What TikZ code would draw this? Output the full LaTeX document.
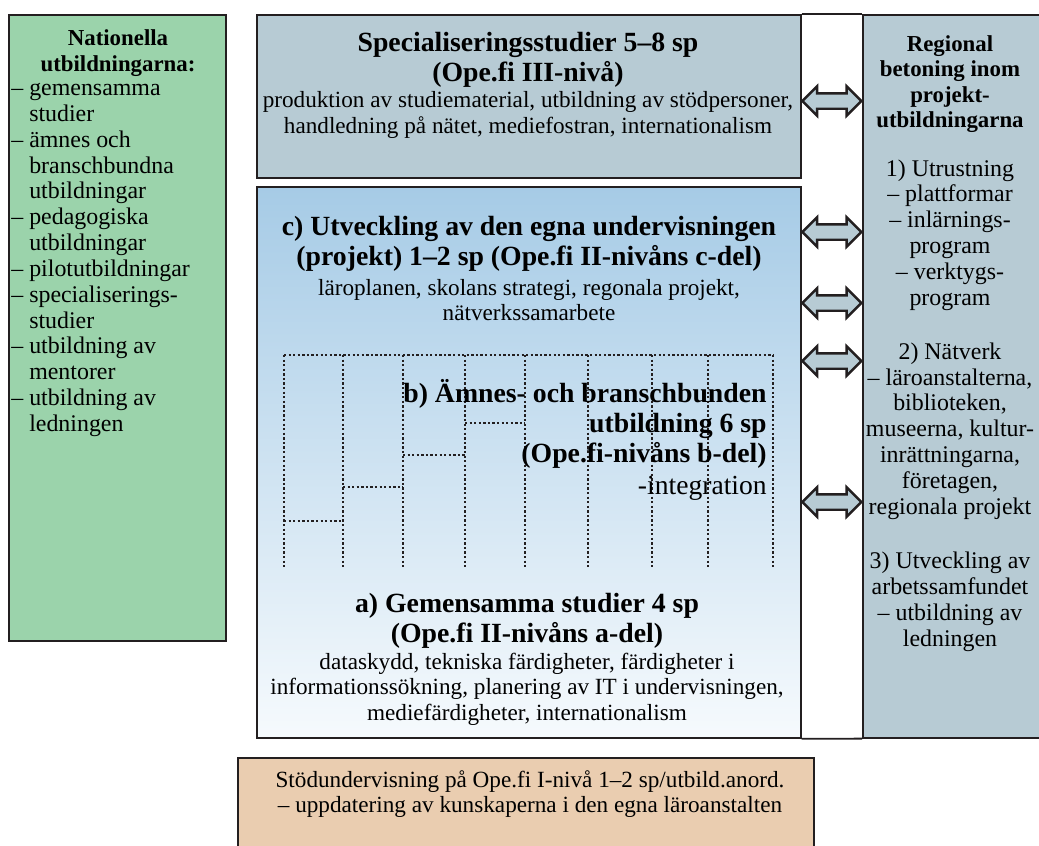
\documentclass[tikz,border=0pt]{standalone}
\usepackage{fontspec}
\setmainfont{Liberation Serif}
\usetikzlibrary{shapes,arrows,positioning,calc,arrows.meta}

\definecolor{natgreen}{RGB}{155,211,171}
\definecolor{regblue}{RGB}{183,203,212}
\definecolor{gradtop}{RGB}{166,203,230}
\definecolor{gradbot}{RGB}{246,250,253}
\definecolor{stodfill}{RGB}{234,205,176}
\definecolor{linecol}{RGB}{35,31,32}

\tikzset{
  panel/.style={draw=linecol, line width=1pt, rectangle, anchor=north west, inner sep=0pt},
  bodytxt/.style={font=\fontsize{13.2}{14.6}\selectfont, align=center, inner sep=0pt},
  sidetxt/.style={font=\fontsize{13.6}{14.7}\selectfont, align=center, inner sep=0pt},
  sidehead/.style={font=\fontsize{13}{14.5}\selectfont\bfseries, align=center, inner sep=0pt},
  headtxt/.style={font=\fontsize{15.8}{17.1}\selectfont\bfseries, align=center, inner sep=0pt},
  dblarrow/.style={double arrow, draw=linecol, line width=1.4pt, fill=regblue, inner sep=0pt,
    text height=0.13cm, text depth=0.13cm, text width=0pt, minimum height=1.18cm,
    double arrow head extend=0.14cm},
  stair/.style={linecol, line width=1.4pt, dash pattern=on 1.3pt off 1.3pt}
}

\begin{document}
\begin{tikzpicture}[x=0.02cm, y=-0.02cm]
\useasboundingbox (0,0) rectangle (1039,846);

% Panels
\node[panel, fill=natgreen, minimum width=4.34cm, minimum height=12.52cm] (nat) at (8,14) {};
\node[panel, fill=regblue, minimum width=10.88cm, minimum height=3.26cm] (spec) at (256,14) {};
\node[panel, top color=gradtop, bottom color=gradbot, minimum width=10.88cm, minimum height=11.02cm] (grad) at (256,186) {};
\node[panel, fill=regblue, minimum width=3.7cm, minimum height=14.46cm] (reg) at (862,14) {};
\node[panel, fill=stodfill, minimum width=11.52cm, minimum height=2.2cm] (stod) at (237,757) {};

% Frame between middle and right column
\draw[linecol, line width=1pt] (spec.north east) -- (reg.north west);
\draw[linecol, line width=1pt] (grad.south east) -- (reg.south west);

% Left column
\node[sidehead] (nathead) at (118,53) {Nationella\\utbildningarna:};
\node[sidetxt, align=left, anchor=west] (natlist) at (11,260) {%
  – gemensamma\\\hphantom{– }studier\\
  – ämnes och\\\hphantom{– }branschbundna\\\hphantom{– }utbildningar\\
  – pedagogiska\\\hphantom{– }utbildningar\\
  – pilotutbildningar\\
  – specialiserings-\\\hphantom{– }studier\\
  – utbildning av\\\hphantom{– }mentorer\\
  – utbildning av\\\hphantom{– }ledningen};

% Specialiseringsstudier
\node[headtxt] (spechead) at (528,60) {Specialiseringsstudier 5–8 sp\\(Ope.fi III-nivå)};
\node[bodytxt] (spectext) at (528,115) {produktion av studiematerial, utbildning av stödpersoner,\\handledning på nätet, mediefostran, internationalism};

% c) part
\node[headtxt] (chead) at (529,244) {c) Utveckling av den egna undervisningen\\(projekt) 1–2 sp (Ope.fi II-nivåns c-del)};
\node[bodytxt] (ctext) at (529,300) {läroplanen, skolans strategi, regonala projekt,\\nätverkssamarbete};

% b) part, dotted columns
\draw[stair] (284,355) -- (773,355);
\foreach \x in {284,343,403,465,525,588,652,708,773}
  \draw[stair] (\x,355) -- (\x,568);
\foreach \xa/\xb/\y in {284/343/521, 343/403/487, 403/465/455, 465/525/423}
  \draw[stair] (\xa,\y) -- (\xb,\y);
\node[headtxt, align=right, anchor=east] (bhead) at (767,424) {b) Ämnes- och branschbunden\\utbildning 6 sp\\(Ope.fi-nivåns b-del)};
\node[bodytxt, font=\fontsize{15.7}{17.1}\selectfont, anchor=east] (btext) at (767,488) {-integration};

% a) part
\node[headtxt] (ahead) at (527,621) {a) Gemensamma studier 4 sp\\(Ope.fi II-nivåns a-del)};
\node[bodytxt] (atext) at (527,689) {dataskydd, tekniska färdigheter, färdigheter i\\informationssökning, planering av IT i undervisningen,\\mediefärdigheter, internationalism};

% Stödundervisning
\node[bodytxt] (stodtext) at (530,794) {Stödundervisning på Ope.fi I-nivå 1–2 sp/utbild.anord.\\– uppdatering av kunskaperna i den egna läroanstalten};

% Right column
\node[sidehead] (reghead) at (950,84) {Regional\\betoning inom\\projekt-\\utbildningarna};
\node[sidetxt] (regone) at (950,235) {1) Utrustning\\– plattformar\\– inlärnings-\\program\\– verktygs-\\program};
\node[sidetxt] (regtwo) at (950,431) {2) Nätverk\\– läroanstalterna,\\biblioteken,\\museerna, kultur-\\inrättningarna,\\företagen,\\regionala projekt};
\node[sidetxt] (regthree) at (950,602) {3) Utveckling av\\arbetssamfundet\\– utbildning av\\ledningen};

% Double arrows
\foreach \y/\src in {101/spec, 232/grad, 303/grad, 361/grad, 502/grad} {
  \coordinate (arr\y) at (0,\y);
  \path (\src.east |- arr\y) -- (reg.west |- arr\y) node[midway, dblarrow] {};
}

\end{tikzpicture}
\end{document}
